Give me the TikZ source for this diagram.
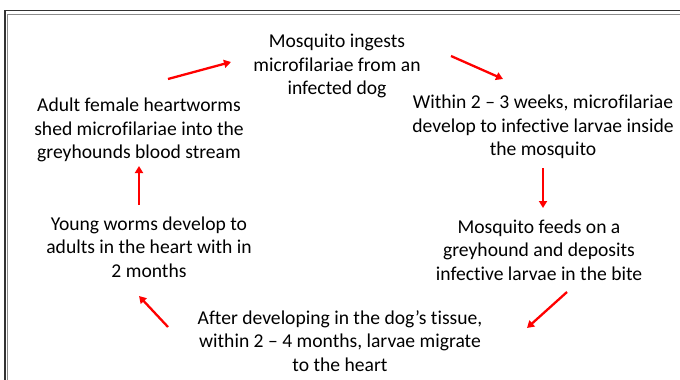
\documentclass[tikz,border=0pt]{standalone}
\usepackage{fontspec}
\setmainfont[Ligatures=NoCommon]{Carlito}
\usetikzlibrary{arrows.meta}

\begin{document}
\begin{tikzpicture}[
    x=1pt, y=-1pt,
    steptext/.style={
        align=center,
        inner sep=0pt,
        font=\fontsize{19.6}{23.5}\selectfont   % Calibri-like body text
    },
    cyclearrow/.style={
        draw=red,
        line width=2.3pt,
        -{Triangle[length=7pt,width=8pt]}    % small solid head
    }
]
\useasboundingbox (0,0) rectangle (680,380);
\clip (0,0) rectangle (680,380);

% frame, cut off at the right and bottom
\draw[black!80, line width=1.8pt] (5,400) |- (700,10.5);
\draw[black!45, line width=1pt] (7.8,400) |- (700,14);

% the six stages
\node[steptext] (ingest) at (337,66) {Mosquito ingests\\microfilariae from an\\infected dog};
\node[steptext] (develop) at (543,127) {Within 2 -- 3 weeks, microfilariae\\develop to infective larvae inside\\the mosquito};
\node[steptext] (feed) at (539,250) {Mosquito feeds on a\\greyhound and deposits\\infective larvae in the bite};
\node[steptext] (migrate) at (340,341) {After developing in the dog’s tissue,\\within 2 -- 4 months, larvae migrate\\to the heart};
\node[steptext] (young) at (149,247) {Young worms develop to\\adults in the heart with in\\2 months};
\node[steptext] (adult) at (139,130) {Adult female heartworms\\shed microfilariae into the\\greyhounds blood stream};

% arrow ends
\coordinate (a1s) at (168,79);  \coordinate (a1e) at (231,62);
\coordinate (a2s) at (451,56);  \coordinate (a2e) at (503,79);
\coordinate (a3s) at (543,168); \coordinate (a3e) at (543,208);
\coordinate (a4s) at (567,292); \coordinate (a4e) at (527,328);
\coordinate (a5s) at (168,327); \coordinate (a5e) at (139,296);
\coordinate (a6s) at (139,205); \coordinate (a6e) at (139,166);

\foreach \i in {1,...,6}
    \draw[cyclearrow] (a\i s) -- (a\i e);
\end{tikzpicture}
\end{document}
